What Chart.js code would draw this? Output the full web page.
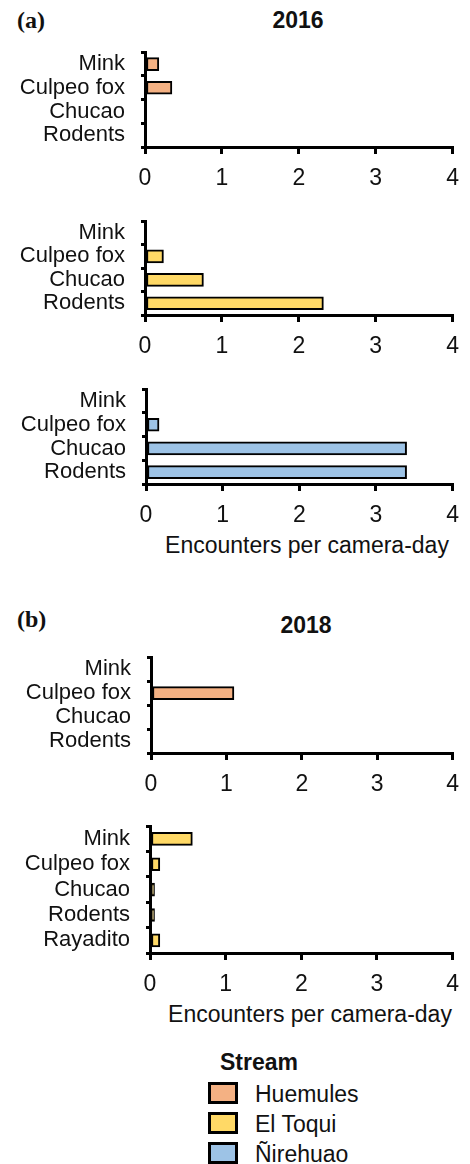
<!DOCTYPE html>
<html>
<head>
<meta charset="utf-8">
<script src="https://cdn.jsdelivr.net/npm/chart.js@4.4.0/dist/chart.umd.min.js"></script>
<style>
  body { margin: 0; width: 470px; height: 1164px; position: relative; overflow: hidden; background: #fff;
         font-family: "Liberation Sans", Arial, sans-serif; color: #111; }
  canvas { position: absolute; left: 0; }
  .txt { position: absolute; white-space: nowrap; line-height: 1; }
  .panel-tag { font-family: "Liberation Serif", "Times New Roman", serif; font-weight: bold; font-size: 24px; }
  .year { font-weight: bold; font-size: 23px; transform: translateX(-50%); }
  .axis-title { font-size: 23px; transform: translateX(-50%); }
  .swatch { position: absolute; width: 24px; height: 16px; border: 3px solid #000; }
</style>
</head>
<body>
<div class="txt panel-tag" style="left:17px; top:8px;">(a)</div>
<div class="txt year" style="left:298px; top:9px;">2016</div>
<div class="txt axis-title" style="left:307px; top:534px;">Encounters per camera-day</div>

<div class="txt panel-tag" style="left:17px; top:607px;">(b)</div>
<div class="txt year" style="left:306px; top:614px;">2018</div>
<div class="txt axis-title" style="left:310px; top:1003px;">Encounters per camera-day</div>

<div id="legend"></div>

<script>
// categories
const species = ['Mink', 'Culpeo fox', 'Chucao', 'Rodents'];
const species2018Toqui = ['Mink', 'Culpeo fox', 'Chucao', 'Rodents', 'Rayadito'];
const streams = ['Huemules', 'El Toqui', 'Ñirehuao'];
const streamColors = ['#F4B183', '#FFD966', '#9DC3E6'];

// encounters per camera-day
const huemules2016 = [0.18, 0.35, 0, 0];
const toqui2016 = [0, 0.24, 0.76, 2.32];
const nirehuao2016 = [0, 0.17, 3.4, 3.4];
const huemules2018 = [0, 1.1, 0, 0];
const toqui2018 = [0.56, 0.13, 0.06, 0.06, 0.13];

const xMin = 0, xMax = 4, xStep = 1;

// where each panel's plot area sits on the page
const panels = [
    { labels: species, values: huemules2016, stream: 0, top: 33, bottom: 147, left: 145, right: 455 },
    { labels: species, values: toqui2016, stream: 1, top: 202, bottom: 315, left: 145, right: 455 },
    { labels: species, values: nirehuao2016, stream: 2, top: 370, bottom: 484, left: 146, right: 458 },
    { labels: species, values: huemules2018, stream: 0, top: 638, bottom: 753, left: 151, right: 461 },
    { labels: species2018Toqui, values: toqui2018, stream: 1, top: 807, bottom: 953, left: 150, right: 462 }
];

const PAD_TOP = 10;
const X_AXIS_H = 46;

function makePanel(p, i) {
    const canvas = document.createElement('canvas');
    const canvasTop = p.top - PAD_TOP;
    const h = p.bottom - canvasTop + X_AXIS_H;
    canvas.width = 470;
    canvas.height = h;
    canvas.style.top = canvasTop + 'px';
    canvas.style.width = '470px';
    canvas.style.height = h + 'px';
    document.body.appendChild(canvas);

    new Chart(canvas.getContext('2d'), {
        type: 'bar',
        data: {
            labels: p.labels,
            datasets: [{
                label: streams[p.stream],
                data: p.values,
                backgroundColor: streamColors[p.stream],
                borderColor: '#000',
                borderWidth: 2,
                borderSkipped: false,
                barThickness: 13
            }]
        },
        options: {
            indexAxis: 'y',
            responsive: false,
            animation: false,
            devicePixelRatio: 1,
            layout: { padding: { top: PAD_TOP, right: 470 - p.right, left: 0, bottom: 0 } },
            plugins: { legend: { display: false }, tooltip: { enabled: false } },
            scales: {
                x: {
                    type: 'linear',
                    min: xMin,
                    max: xMax,
                    ticks: {
                        stepSize: xStep,
                        color: '#111',
                        padding: 11,
                        font: { family: '"Liberation Sans", Arial, sans-serif', size: 23 }
                    },
                    grid: { drawOnChartArea: false, color: '#000', lineWidth: 3, tickLength: 7 },
                    border: { color: '#000', width: 3 },
                    afterFit: scale => { scale.height = X_AXIS_H; }
                },
                y: {
                    type: 'category',
                    offset: true,
                    ticks: {
                        autoSkip: false,
                        color: '#111',
                        padding: 16,
                        font: { family: '"Liberation Sans", Arial, sans-serif', size: 22 }
                    },
                    grid: { offset: true, drawOnChartArea: false, color: '#000', lineWidth: 3, tickLength: 4 },
                    border: { color: '#000', width: 3 },
                    afterFit: scale => { scale.width = p.left; }
                }
            }
        }
    });
}

panels.forEach(makePanel);

// shared legend
const legend = document.getElementById('legend');
const title = document.createElement('div');
title.className = 'txt';
title.style.cssText = 'left:220px; top:1051px; font-size:23px; font-weight:bold;';
title.textContent = 'Stream';
legend.appendChild(title);
streams.forEach((name, i) => {
    const y = 1082 + i * 30;
    const sw = document.createElement('div');
    sw.className = 'swatch';
    sw.style.left = '208px';
    sw.style.top = y + 'px';
    sw.style.background = streamColors[i];
    legend.appendChild(sw);
    const t = document.createElement('div');
    t.className = 'txt';
    t.style.cssText = 'left:255px; top:' + (y + 1) + 'px; font-size:23px;';
    t.textContent = name;
    legend.appendChild(t);
});
</script>
</body>
</html>
